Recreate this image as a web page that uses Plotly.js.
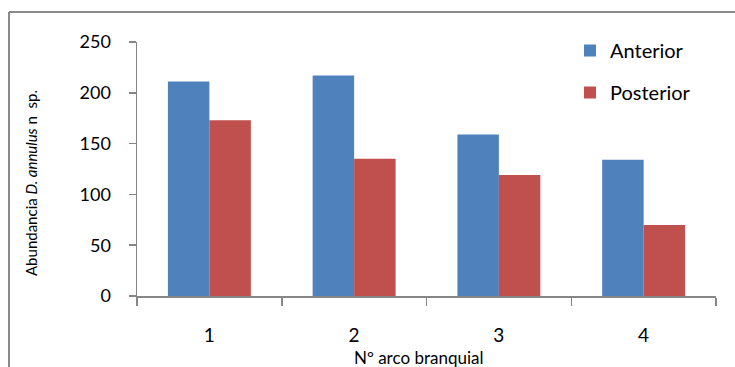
<!DOCTYPE html>
<html><head><meta charset="utf-8">
<script src="https://cdn.plot.ly/plotly-3.0.1.min.js"></script>
<style>html,body{margin:0;padding:0;background:#fff}#c{width:735px;height:367px}</style>
</head><body><div id="c"></div>
<script>
const categories = ['1', '2', '3', '4'];
const anterior = [211, 217, 159, 134];
const posterior = [173, 135, 119, 70];
const yTicks = [0, 50, 100, 150, 200, 250];

const font = 'Lato, "Open Sans", sans-serif';
const axisCol = '#868686';

const traces = [
  {type: 'bar', name: 'Anterior', x: categories, y: anterior, marker: {color: '#4F81BD'}, legendgroup: 'a'},
  {type: 'bar', name: 'Posterior', x: categories, y: posterior, marker: {color: '#C0504D'}, legendgroup: 'b'}
];

const W = 735, H = 367, L = 137, R = 19, T = 42, B = 71;
const pw = W - L - R, ph = H - T - B;
const px = v => (v - L) / pw;
const py = v => (H - B - v) / ph;

const layout = {
  width: W, height: H,
  margin: {l: L, r: R, t: T, b: B, pad: 0},
  paper_bgcolor: '#fff', plot_bgcolor: '#fff',
  font: {family: font, color: '#000'},
  barmode: 'group', bargap: 0.427, bargroupgap: 0,
  showlegend: true,
  legend: {x: px(570), y: py(31), xanchor: 'left', yanchor: 'top', font: {size: 20, family: font}, tracegroupgap: 13, itemwidth: 30, bgcolor: 'rgba(0,0,0,0)'},
  xaxis: {
    type: 'category', tickson: 'boundaries', ticks: 'outside', ticklen: 8, tickcolor: axisCol, tickwidth: 1.5,
    showline: true, linecolor: axisCol, linewidth: 1.5, showgrid: false, zeroline: false,
    tickfont: {size: 19, family: font}, ticklabelstandoff: 22
  },
  yaxis: {
    range: [0, 250], tickvals: yTicks, ticks: 'outside', ticklen: 7, tickcolor: axisCol, tickwidth: 1.5,
    showline: true, linecolor: axisCol, linewidth: 1.5, showgrid: false, zeroline: false,
    tickfont: {size: 18, family: font}, ticklabelstandoff: 14
  },
  annotations: [
    {text: 'Abundancia <i>D. annulus</i> n  sp.', xref: 'paper', yref: 'paper', x: px(31), y: py(183),
     xanchor: 'center', yanchor: 'middle', textangle: -90, showarrow: false, font: {size: 15, family: font}},
    {text: 'Nº arco branquial', xref: 'paper', yref: 'paper', x: px(418), y: py(357),
     xanchor: 'center', yanchor: 'middle', showarrow: false, font: {size: 17, family: font}}
  ],
  shapes: [
    {type: 'line', xref: 'paper', yref: 'paper', x0: px(9), x1: px(740), y0: py(12), y1: py(12), line: {color: '#8a8a8a', width: 2}},
    {type: 'line', xref: 'paper', yref: 'paper', x0: px(9), x1: px(9), y0: py(12), y1: py(372), line: {color: '#8a8a8a', width: 2}}
  ]
};

Plotly.newPlot('c', traces, layout, {displayModeBar: false, staticPlot: true});
</script></body></html>
